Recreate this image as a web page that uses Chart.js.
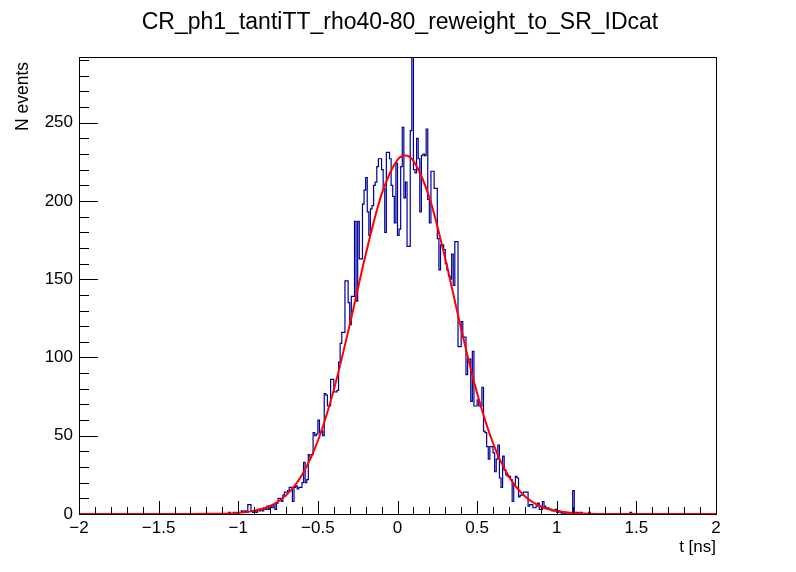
<!DOCTYPE html>
<html>
<head>
    <title>CR_ph1_tantiTT_rho40-80_reweight_to_SR_IDcat</title>
    <script src="https://cdn.jsdelivr.net/npm/chart.js"></script>
    <style type="text/css">
        body { margin: 0; background: #fff; }
        #plot { display: block; }
    </style>
</head>
<body>
    <canvas id="plot" width="796" height="572" style="width:796px;height:572px"></canvas>

    <script type="text/javascript">
        // histogram: 0.01 ns bins, first listed bin starts at -1.10 (everything outside is empty)
        const binStart = -1.10;
        const binWidth = 0.01;
        const counts = [
            0, 0, 0, 0, 1, 0, 0, 1, 0, 1,
            1, 1, 2, 1, 2, 1, 6, 6, 2, 1,
            2, 1, 3, 2, 3, 2, 4, 3, 5, 3,
            5, 4, 6, 3, 7, 10, 10, 8, 12, 14,
            14, 15, 17, 17, 8, 17, 18, 16, 17, 17,
            20, 33, 20, 22, 38, 36, 38, 52, 50, 51,
            60, 52, 53, 50, 77, 76, 69, 69, 86, 86,
            78, 78, 79, 97, 109, 116, 116, 149, 149, 135,
            121, 139, 139, 187, 136, 187, 163, 163, 198, 207,
            215, 193, 178, 195, 197, 210, 212, 222, 227, 227,
            220, 208, 180, 231, 231, 227, 210, 203, 186, 224,
            178, 182, 222, 247, 202, 212, 171, 171, 245, 300,
            220, 218, 240, 227, 193, 229, 230, 229, 246, 201,
            186, 219, 219, 208, 208, 176, 156, 172, 172, 169,
            160, 156, 152, 150, 166, 146, 174, 174, 107, 107,
            123, 113, 113, 89, 99, 99, 72, 104, 69, 69,
            73, 69, 69, 81, 53, 52, 43, 35, 43, 43,
            39, 27, 35, 44, 23, 17, 37, 28, 25, 24,
            24, 22, 8, 19, 24, 23, 11, 12, 12, 14,
            14, 14, 5, 6, 6, 4, 4, 5, 7, 3,
            3, 8, 5, 4, 4, 3, 3, 2, 2, 3,
            1, 2, 1, 0, 1, 0, 1, 0, 0, 0,
            15, 1, 1, 1, 0, 1, 0, 0, 0, 0,
            1, 0, 0, 0, 0, 0, 0, 0, 0, 0,
            0, 0, 0, 0, 0, 0, 0, 0, 0, 0,
            0, 0, 0, 0, 0, 0, 1, 0, 0, 0
        ];

        // gaussian fit curve
        const fitX = [-2, -1.5, -1.3, -1.2, -1.1, -1.0, -0.9, -0.8, -0.7, -0.6, -0.5, -0.4, -0.3, -0.2, -0.1,
                      0, 0.05, 0.1, 0.2, 0.3, 0.4, 0.5, 0.6, 0.7, 0.8, 0.9, 1.0, 1.1, 1.2, 1.3, 1.5, 2];
        const fitY = [0, 0, 0.05, 0.1, 0.2, 0.7, 2.0, 5.1, 11.9, 24.9, 46.8, 79.3, 120.9, 165.7, 204.2,
                      226.3, 229, 225.6, 202.3, 163.1, 118.2, 77.1, 45.2, 23.8, 11.3, 4.8, 1.9, 0.6, 0.2, 0.05, 0, 0];

        const xMajor = [-2, -1.5, -1, -0.5, 0, 0.5, 1, 1.5, 2];
        const yMajor = [0, 50, 100, 150, 200, 250];

        const titleText = 'CR_ph1_tantiTT_rho40-80_reweight_to_SR_IDcat';
        const xTitle = 't [ns]';
        const yTitle = 'N events';

        const FONT = '"Liberation Sans", Arial, Helvetica, sans-serif';

        // step points: left edge of every bin, closed at both ends
        const histPoints = [{x: -2, y: 0}];
        counts.forEach((c, i) => histPoints.push({x: binStart + i * binWidth, y: c}));
        histPoints.push({x: binStart + counts.length * binWidth, y: 0});
        histPoints.push({x: 2, y: 0});

        const fitPoints = fitX.map((x, i) => ({x: x, y: fitY[i]}));

        function fmt(v) {
            return String(v).replace('-', '\u2212');
        }

        // ROOT style frame, inward ticks and titles
        const rootFrame = {
            id: 'rootFrame',
            afterDatasetsDraw(chart) {
                const {ctx, chartArea: a, scales} = chart;
                const xs = scales.x, ys = scales.y;
                ctx.save();
                ctx.strokeStyle = '#000';
                ctx.lineWidth = 1;
                ctx.strokeRect(Math.round(a.left) + 0.5, Math.round(a.top) + 0.5,
                               Math.round(a.right - a.left), Math.round(a.bottom - a.top));

                ctx.beginPath();
                for (let k = 0; k <= 40; k++) {
                    const v = -2 + k * 0.1;
                    const px = Math.round(xs.getPixelForValue(v)) + 0.5;
                    const len = (k % 5 === 0) ? 13 : 7;
                    ctx.moveTo(px, a.bottom);
                    ctx.lineTo(px, a.bottom - len);
                }
                for (let v = 0; v <= 290; v += 10) {
                    const py = Math.round(ys.getPixelForValue(v)) + 0.5;
                    const len = (v % 50 === 0) ? 19 : 10;
                    ctx.moveTo(a.left, py);
                    ctx.lineTo(a.left + len, py);
                }
                ctx.stroke();

                ctx.fillStyle = '#000';
                ctx.font = '23px ' + FONT;
                ctx.textAlign = 'center';
                ctx.textBaseline = 'alphabetic';
                ctx.fillText(titleText, 400, 29);

                ctx.font = '17px ' + FONT;
                ctx.textAlign = 'right';
                ctx.fillText(xTitle, a.right, 552);

                ctx.translate(28, a.top + 5);
                ctx.rotate(-Math.PI / 2);
                ctx.textAlign = 'right';
                ctx.font = '17.5px ' + FONT;
                ctx.fillText(yTitle, 0, 0);
                ctx.restore();
            }
        };

        const tickFont = {family: FONT, size: 17};

        new Chart(document.getElementById('plot').getContext('2d'), {
            type: 'line',
            data: {
                datasets: [
                    {
                        label: 'fit',
                        data: fitPoints,
                        borderColor: '#ff0000',
                        borderWidth: 2,
                        pointRadius: 0,
                        fill: false,
                        cubicInterpolationMode: 'monotone'
                    },
                    {
                        label: 'histogram',
                        data: histPoints,
                        stepped: 'before',
                        borderColor: '#000099',
                        borderWidth: 1.2,
                        pointRadius: 0,
                        fill: false
                    }
                ]
            },
            options: {
                responsive: false,
                animation: false,
                devicePixelRatio: 1,
                layout: {padding: {top: 57, right: 80, left: 0, bottom: 0}},
                plugins: {
                    legend: {display: false},
                    tooltip: {enabled: false},
                    title: {display: false}
                },
                scales: {
                    x: {
                        type: 'linear',
                        min: -2,
                        max: 2,
                        grid: {display: false, drawTicks: false},
                        border: {display: false},
                        afterBuildTicks: s => { s.ticks = xMajor.map(v => ({value: v})); },
                        ticks: {
                            maxRotation: 0,
                            autoSkip: false,
                            padding: 4,
                            color: '#000',
                            font: tickFont,
                            callback: v => fmt(v)
                        },
                        afterFit: s => { s.height = 58; }
                    },
                    y: {
                        type: 'linear',
                        min: 0,
                        max: 292,
                        grid: {display: false, drawTicks: false},
                        border: {display: false},
                        afterBuildTicks: s => { s.ticks = yMajor.map(v => ({value: v})); },
                        ticks: {
                            padding: 6,
                            color: '#000',
                            font: tickFont,
                            callback: v => fmt(v)
                        },
                        afterFit: s => { s.width = 79; }
                    }
                }
            },
            plugins: [rootFrame]
        });
    </script>
</body>
</html>
